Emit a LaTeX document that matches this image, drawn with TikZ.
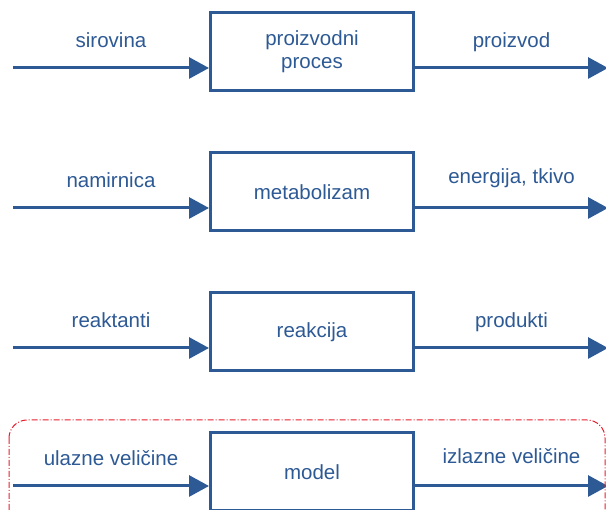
\documentclass[tikz,border=0pt]{standalone}
\usepackage{fontspec}
\setmainfont{Liberation Sans}
\usepackage{tikz}
\usetikzlibrary{
  arrows.meta,
  positioning
}
\definecolor{plava}{RGB}{45,89,148}
\definecolor{crvena}{RGB}{230,30,45}

\begin{document}
\begin{tikzpicture}[
  x=1pt,y=1pt,
  box/.style={draw=plava,line width=3pt,minimum width=203pt,minimum height=78pt,
              align=center,inner sep=0pt,text=plava,
              font=\fontsize{20.5pt}{23pt}\selectfont},
  lbl/.style={midway,anchor=base,yshift=20pt,text=plava,inner sep=0pt,
              font=\fontsize{20.5pt}{23pt}\selectfont},
  arr/.style={-{Triangle[length=20pt,width=21pt]},line width=3pt,draw=plava},
  okvir/.style={draw=crvena,line width=1pt,rounded corners=18pt,
                dash pattern=on 6pt off 2pt on 1pt off 2pt},
  node distance=59pt,
]
\useasboundingbox (0,0) rectangle (606,-510);
\clip (0,0) rectangle (606,-510);

\node[box]                 (proces) at (312,-52) {proizvodni\\proces};
\node[box,below=of proces] (metab)  {metabolizam};
\node[box,below=of metab]  (reak)   {reakcija};
\node[box,below=of reak]   (model)  {model};

% ulazi i izlazi
\coordinate[left=196pt of proces.west,yshift=-16pt]   (sir);
\coordinate[right=193pt of proces.east,yshift=-16pt]  (pzv);
\coordinate[left=196pt of metab.west,yshift=-16pt]    (nam);
\coordinate[right=193pt of metab.east,yshift=-16pt]   (ene);
\coordinate[left=196pt of reak.west,yshift=-16pt]     (rea);
\coordinate[right=193pt of reak.east,yshift=-16pt]    (pro);
\coordinate[left=196pt of model.west,yshift=-14pt]    (ulz);
\coordinate[right=193pt of model.east,yshift=-14pt]   (izl);

\draw[arr] (sir) -- node[lbl]{sirovina} (sir -| proces.west);
\draw[arr] (pzv -| proces.east) -- node[lbl]{proizvod} (pzv);
\draw[arr] (nam) -- node[lbl]{namirnica} (nam -| metab.west);
\draw[arr] (ene -| metab.east) -- node[lbl,yshift=4pt]{energija, tkivo} (ene);
\draw[arr] (rea) -- node[lbl]{reaktanti} (rea -| reak.west);
\draw[arr] (pro -| reak.east) -- node[lbl]{produkti} (pro);
\draw[arr] (ulz) -- node[lbl]{ulazne veličine} (ulz -| model.west);
\draw[arr] (izl -| model.east) -- node[lbl,yshift=2pt]{izlazne veličine} (izl);

% okvir modela
\draw[okvir] (9,-420) rectangle (605,-530);
\end{tikzpicture}
\end{document}
